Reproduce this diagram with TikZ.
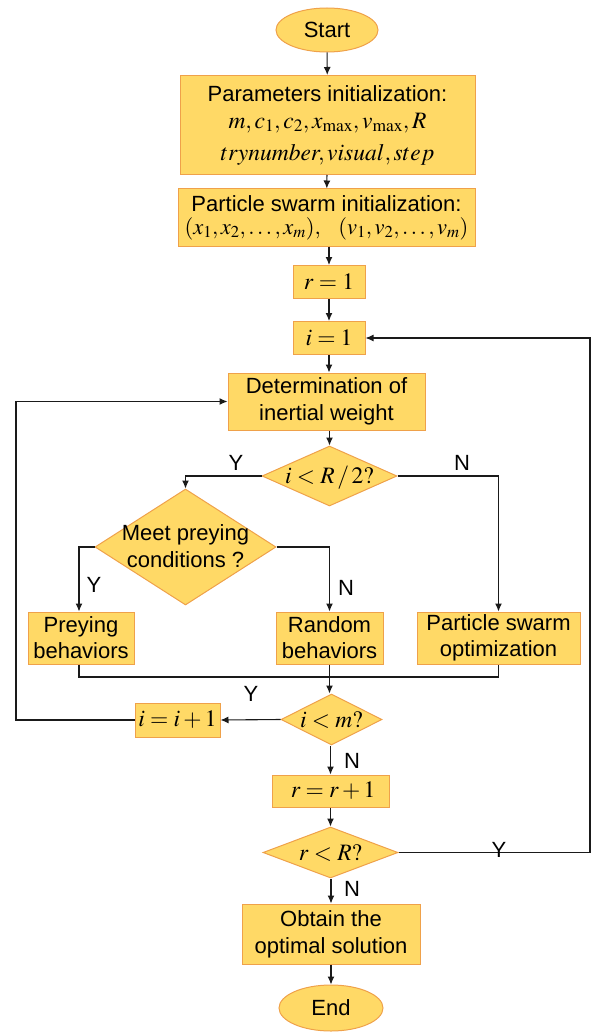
\documentclass[tikz,border=0pt]{standalone}
\usepackage{mathptmx}
\usepackage{fontspec}
\setmainfont{Liberation Sans}
\usetikzlibrary{shapes.geometric,arrows.meta}
\definecolor{boxfill}{HTML}{FFD966}
\definecolor{boxline}{HTML}{EFA14A}
\definecolor{linec}{HTML}{1A1A1A}
\newcommand\fs{\fontsize{22}{26}\selectfont}
\newcommand\fm{\fontsize{23.5}{27}\selectfont}
\begin{document}
\begin{tikzpicture}[x=1pt,y=-1pt,
  box/.style={draw=boxline, fill=boxfill, line width=1pt, inner sep=0pt, align=center, font=\fs},
  term/.style={box, ellipse},
  dec/.style={draw=boxline, fill=boxfill, line width=1pt, inner sep=0pt, diamond},
  txt/.style={inner sep=0pt, align=center, font=\fs},
  arr/.style={draw=linec, line width=1.1pt, -{Latex[length=8pt,width=7pt]}},
  ln/.style={draw=linec, line width=1.1pt},
  yn/.style={inner sep=0pt, font=\fs}
]
\useasboundingbox (0,0) rectangle (593,1032);

\node[term, minimum width=102, minimum height=44] (start) at (327,30) {Start};
\node[box, minimum width=295, minimum height=99, font=\fontsize{22}{30}\selectfont] (params) at (327.5,125)
  {\raisebox{-3pt}{Parameters initialization:}\\ {\fm$m,c_1,c_2,x_{\max},v_{\max},R$}\\[2pt] {\fm$trynumber,visual,step$}};
\node[box, minimum width=297, minimum height=57, font=\fontsize{22}{26}\selectfont] (psi) at (326.5,217.5)
  {\raisebox{-3pt}{Particle swarm initialization:}\\ {\fontsize{22.5}{26}\selectfont$(x_1,x_2,\ldots,x_m),\;\;\;(v_1,v_2,\ldots,v_m)$}};
\node[box, minimum width=72, minimum height=33] (r1) at (329,282) {\fm$r=1$};
\node[box, minimum width=72, minimum height=33] (i1) at (329,338) {\fm$i=1$};
\node[box, minimum width=197, minimum height=57, font=\fontsize{22}{27}\selectfont] (det) at (326.5,401.5)
  {Determination of\\ inertial weight};
\node[dec, minimum width=135, minimum height=60] (d1) at (329.5,476) {};
\node[txt] (d1t) at (329.5,478) {\fm$i<R\,/\,2?$};
\node[dec, minimum width=181, minimum height=116] (d2) at (185.5,547) {};
\node[txt, font=\fontsize{22}{27}\selectfont] (d2t) at (185.5,546) {Meet preying\\ conditions ?};
\node[box, minimum width=106, minimum height=52, font=\fontsize{22}{26}\selectfont] (prey) at (81,638) {Preying\\ behaviors};
\node[box, minimum width=107, minimum height=52, font=\fontsize{22}{26}\selectfont] (rand) at (329.5,638) {Random\\ behaviors};
\node[box, minimum width=163, minimum height=52, font=\fontsize{22}{26}\selectfont] (pso) at (498.5,638) {Particle swarm\\ optimization};
\node[dec, minimum width=101, minimum height=51] (d3) at (331.5,719.5) {};
\node[txt] (d3t) at (331.5,720) {\fm$i<m?$};
\node[box, minimum width=85, minimum height=34] (inc) at (177.5,720) {\fm$i=i+1$};
\node[box, minimum width=117, minimum height=32] (rinc) at (330.5,791) {\fm$\;r=r+1$};
\node[dec, minimum width=135, minimum height=51] (d4) at (330.5,852.5) {};
\node[txt] (d4t) at (330.5,853) {\fm$r<R?$};
\node[box, minimum width=178, minimum height=60, font=\fontsize{22}{27}\selectfont] (opt) at (331,934) {Obtain the\\ optimal solution};
\node[term, minimum width=104, minimum height=46] (end) at (331,1008) {End};

\coordinate (merge) at (330,677);
\coordinate (lp) at (16,720);
\coordinate (rp) at (590,852.5);

\draw[arr] (start) -- (params);
\draw[arr] (params) -- (psi);
\draw[arr] (psi.south -| r1) -- (r1);
\draw[arr] (r1) -- (i1);
\draw[arr] (i1) -- (det.north -| i1);
\draw[arr] (det.south -| d1) -- (d1);
\draw[arr] (d1.west) -| (d2.north);
\draw[arr] (d1.east) -| (pso.north);
\draw[arr] (d2.west) -| ([xshift=-2pt]prey.north);
\draw[arr] (d2.east) -| (rand.north);
\draw[ln] ([xshift=-2pt]prey.south) |- (merge) -| (pso.south);
\draw[arr] (rand.south) -- (d3.north -| rand.south);
\draw[arr] (d3.west) -- (inc.east);
\draw[arr] (inc.west) -- (lp) |- (det.west);
\draw[arr] (d3.south -| rinc) -- (rinc);
\draw[arr] (rinc) -- (d4.north -| rinc);
\draw[arr] (d4.east) -- (rp) |- (i1.east);
\draw[arr] (d4.south -| opt) -- (opt);
\draw[arr] (opt) -- (end);

\node[yn] (y1) at (236,463) {Y};
\node[yn] (n1) at (462,463) {N};
\node[yn] (y2) at (94,585) {Y};
\node[yn] (n2) at (346,588) {N};
\node[yn] (y3) at (251,694) {Y};
\node[yn] (n3) at (352,761) {N};
\node[yn] (y4) at (499,850) {Y};
\node[yn] (n4) at (352,889) {N};
\end{tikzpicture}
\end{document}
